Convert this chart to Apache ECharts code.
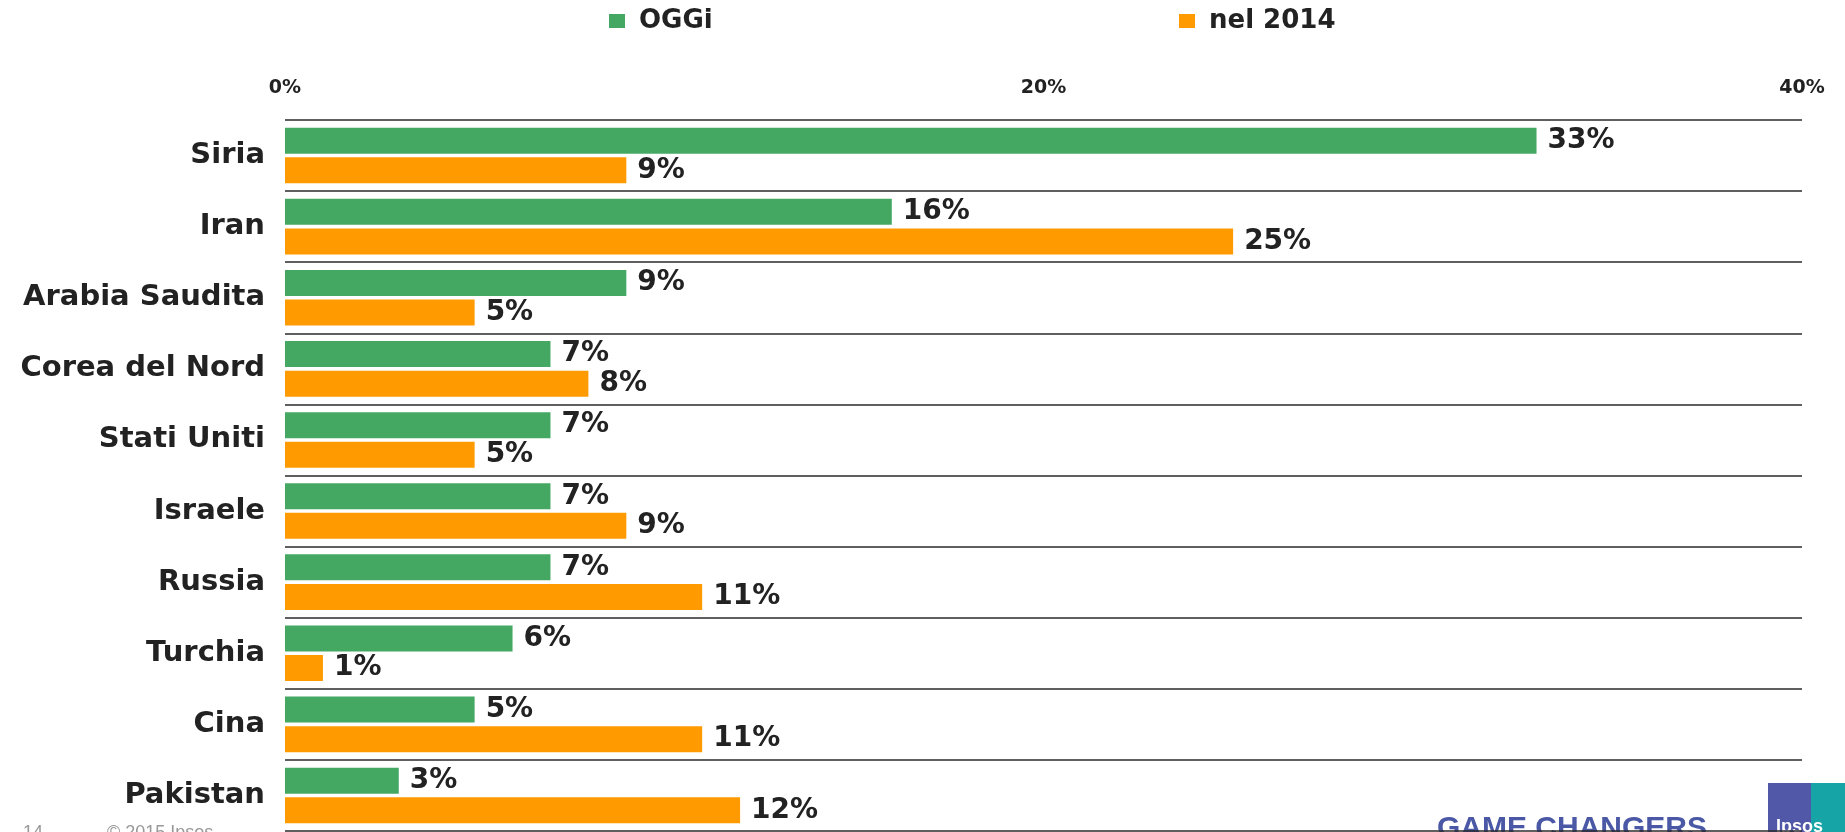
<!DOCTYPE html>
<html>
<head>
<meta charset="utf-8">
<script src="https://cdn.jsdelivr.net/npm/echarts@6/dist/echarts.min.js"></script>
<style>
	html, body { margin: 0; padding: 0; background: #fff; }
	#main { width: 1845px; height: 832px; }
</style>
</head>
<body>
<div id="main"></div>
<script>
// paesi e percentuali
var paesi = ['Siria', 'Iran', 'Arabia Saudita', 'Corea del Nord', 'Stati Uniti', 'Israele', 'Russia', 'Turchia', 'Cina', 'Pakistan'];
var oggi = [33, 16, 9, 7, 7, 7, 7, 6, 5, 3];
var nel2014 = [9, 25, 5, 8, 5, 9, 11, 1, 11, 12];
var tickMin = 0, tickMax = 40, tickStep = 20;

var FONT = 'DejaVu Sans';

function barLabel() {
	return {
		show: true,
		position: 'right',
		distance: 11,
		formatter: '{c}%',
		color: '#222',
		fontFamily: FONT,
		fontWeight: 'bold',
		fontSize: 28
	};
}

function legendAt(name, left) {
	return {
		data: [name],
		left: left,
		top: 3,
		icon: 'rect',
		itemWidth: 16,
		itemHeight: 14,
		textStyle: {
			color: '#222',
			fontFamily: FONT,
			fontWeight: 'bold',
			fontSize: 26,
			padding: [0, 0, 0, 9]
		}
	};
}

var myChart = echarts.init(document.getElementById('main'));
var option = {
	backgroundColor: '#fff',
	animation: false,
	legend: [legendAt('OGGi', 604), legendAt('nel 2014', 1174)],
	grid: {
		left: 285,
		right: 43,
		top: 120,
		bottom: 1
	},
	xAxis: {
		type: 'value',
		position: 'top',
		min: tickMin,
		max: tickMax,
		interval: tickStep,
		axisLine: { show: false },
		axisTick: { show: false },
		splitLine: { show: false },
		axisLabel: {
			formatter: '{value}%',
			margin: 22,
			color: '#222',
			fontFamily: FONT,
			fontWeight: 'bold',
			fontSize: 19
		}
	},
	yAxis: {
		type: 'category',
		inverse: true,
		data: paesi,
		axisLine: { show: false },
		axisTick: { show: false },
		splitLine: {
			show: true,
			lineStyle: { color: '#2a2a2a', width: 1.6 }
		},
		axisLabel: {
			margin: 20,
			color: '#222',
			fontFamily: FONT,
			fontWeight: 'bold',
			fontSize: 29
		}
	},
	series: [{
		name: 'OGGi',
		type: 'bar',
		data: oggi,
		barWidth: 26,
		barGap: '14%',
		itemStyle: { color: '#44a862' },
		label: barLabel()
	}, {
		name: 'nel 2014',
		type: 'bar',
		data: nel2014,
		barWidth: 26,
		barGap: '14%',
		itemStyle: { color: '#ff9b00' },
		label: barLabel()
	}],
	graphic: [
		{ type: 'text', left: 23, top: 824, style: { text: '14', fill: '#999', font: '18px "Liberation Sans"' } },
		{ type: 'text', left: 107, top: 824, style: { text: '© 2015 Ipsos', fill: '#999', font: '18px "Liberation Sans"' } },
		{ type: 'text', left: 1437, top: 814, style: { text: 'GAME CHANGERS', fill: '#4a58a6', font: 'bold 30px "Liberation Sans"' } },
		{ type: 'rect', left: 1768, top: 783, shape: { width: 43, height: 49 }, style: { fill: '#5158a8' } },
		{ type: 'rect', left: 1811, top: 783, shape: { width: 34, height: 49 }, style: { fill: '#17a4a6' } },
		{ type: 'text', left: 1776, top: 818, style: { text: 'Ipsos', fill: '#fff', font: 'bold 18px "Liberation Sans"' } }
	]
};
myChart.setOption(option);
</script>
</body>
</html>
